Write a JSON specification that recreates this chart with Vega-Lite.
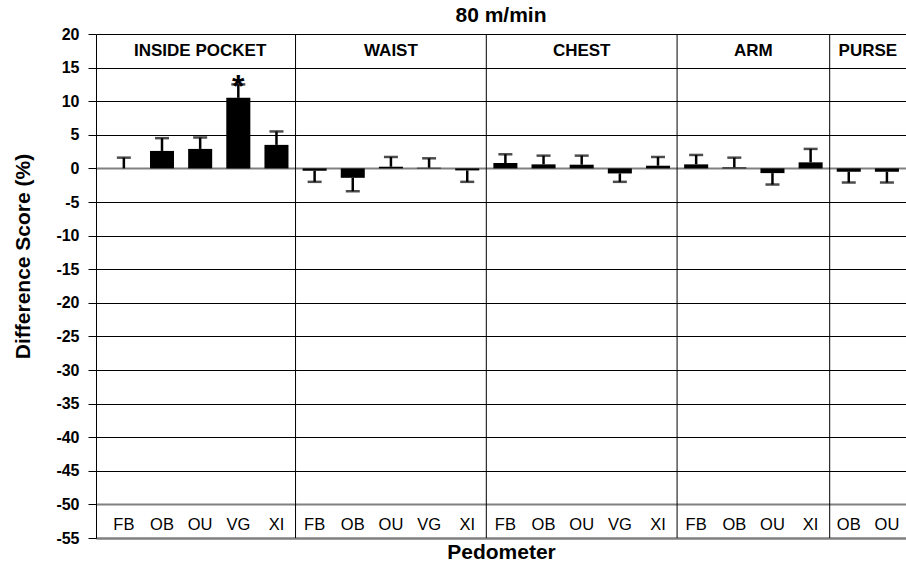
{
  "$schema": "https://vega.github.io/schema/vega-lite/v6.json",
  "width": 810,
  "height": 504,
  "autosize": {"type": "none"},
  "padding": {"left": 96, "top": 34, "right": 0, "bottom": 29},
  "background": "white",
  "title": {"text": "80 m/min", "fontSize": 21, "fontWeight": "bold", "font": "Liberation Sans", "color": "black", "offset": 0, "anchor": "middle"},
  "config": {
    "view": {"stroke": null},
    "font": "Liberation Sans",
    "axisX": {
      "labels": false, "ticks": false, "grid": false,
      "domainColor": "#808080", "domainWidth": 2,
      "titleFontSize": 21, "titleFontWeight": "bold", "titleColor": "black", "titlePadding": 3,
      "titleFont": "Liberation Sans"
    },
    "axisY": {
      "grid": true, "labelOverlap": false, "labelBound": false, "labelFlush": false, "tickCount": 30,
      "domainColor": "black", "tickColor": "black", "tickSize": 8,
      "labelFontSize": 16, "labelFontWeight": "bold", "labelColor": "black", "labelPadding": 9,
      "labelFont": "Liberation Sans",
      "titleFontSize": 21, "titleFontWeight": "bold", "titleColor": "black", "titlePadding": 22,
      "titleFont": "Liberation Sans"
    }
  },
  "datasets": {
    "scores": [
      {"id": "IP-FB", "location": "INSIDE POCKET", "pedometer": "FB", "mean": 0.0, "errEnd": 1.6, "sig": ""},
      {"id": "IP-OB", "location": "INSIDE POCKET", "pedometer": "OB", "mean": 2.6, "errEnd": 4.5, "sig": ""},
      {"id": "IP-OU", "location": "INSIDE POCKET", "pedometer": "OU", "mean": 2.9, "errEnd": 4.6, "sig": ""},
      {"id": "IP-VG", "location": "INSIDE POCKET", "pedometer": "VG", "mean": 10.5, "errEnd": 12.5, "sig": "*"},
      {"id": "IP-XI", "location": "INSIDE POCKET", "pedometer": "XI", "mean": 3.5, "errEnd": 5.5, "sig": ""},
      {"id": "W-FB", "location": "WAIST", "pedometer": "FB", "mean": -0.35, "errEnd": -2.0, "sig": ""},
      {"id": "W-OB", "location": "WAIST", "pedometer": "OB", "mean": -1.4, "errEnd": -3.4, "sig": ""},
      {"id": "W-OU", "location": "WAIST", "pedometer": "OU", "mean": 0.25, "errEnd": 1.7, "sig": ""},
      {"id": "W-VG", "location": "WAIST", "pedometer": "VG", "mean": 0.1, "errEnd": 1.5, "sig": ""},
      {"id": "W-XI", "location": "WAIST", "pedometer": "XI", "mean": -0.3, "errEnd": -2.0, "sig": ""},
      {"id": "C-FB", "location": "CHEST", "pedometer": "FB", "mean": 0.8, "errEnd": 2.1, "sig": ""},
      {"id": "C-OB", "location": "CHEST", "pedometer": "OB", "mean": 0.6, "errEnd": 1.9, "sig": ""},
      {"id": "C-OU", "location": "CHEST", "pedometer": "OU", "mean": 0.55, "errEnd": 1.9, "sig": ""},
      {"id": "C-VG", "location": "CHEST", "pedometer": "VG", "mean": -0.75, "errEnd": -2.0, "sig": ""},
      {"id": "C-XI", "location": "CHEST", "pedometer": "XI", "mean": 0.4, "errEnd": 1.7, "sig": ""},
      {"id": "A-FB", "location": "ARM", "pedometer": "FB", "mean": 0.6, "errEnd": 2.0, "sig": ""},
      {"id": "A-OB", "location": "ARM", "pedometer": "OB", "mean": 0.15, "errEnd": 1.6, "sig": ""},
      {"id": "A-OU", "location": "ARM", "pedometer": "OU", "mean": -0.7, "errEnd": -2.4, "sig": ""},
      {"id": "A-XI", "location": "ARM", "pedometer": "XI", "mean": 0.9, "errEnd": 2.9, "sig": ""},
      {"id": "P-OB", "location": "PURSE", "pedometer": "OB", "mean": -0.5, "errEnd": -2.1, "sig": ""},
      {"id": "P-OU", "location": "PURSE", "pedometer": "OU", "mean": -0.5, "errEnd": -2.1, "sig": ""}
    ],
    "groups": [
      {"location": "INSIDE POCKET", "first": "IP-FB", "center": "IP-OU", "even": false},
      {"location": "WAIST", "first": "W-FB", "center": "W-OU", "even": false},
      {"location": "CHEST", "first": "C-FB", "center": "C-OU", "even": false},
      {"location": "ARM", "first": "A-FB", "center": "A-OB", "even": true},
      {"location": "PURSE", "first": "P-OB", "center": "P-OB", "even": true}
    ]
  },
  "layer": [
    {
      "data": {"name": "scores"},
      "mark": {"type": "bar", "color": "black", "width": {"band": 0.63}},
      "encoding": {
        "x": {
          "field": "id", "type": "nominal", "sort": null, "title": "Pedometer",
          "scale": {
            "domain": ["IP-FB","IP-OB","IP-OU","IP-VG","IP-XI","W-FB","W-OB","W-OU","W-VG","W-XI","C-FB","C-OB","C-OU","C-VG","C-XI","A-FB","A-OB","A-OU","A-XI","P-OB","P-OU"],
            "paddingInner": 0, "paddingOuter": 0.115, "align": 1
          }
        },
        "y": {
          "field": "mean", "type": "quantitative", "title": "Difference Score (%)",
          "scale": {"domain": [-55, 20], "nice": false, "zero": false},
          "axis": {
            "values": [-55,-50,-45,-40,-35,-30,-25,-20,-15,-10,-5,0,5,10,15,20],
            "tickCount": 30,
            "titleY": 222,
            "labelExpr": "toString(datum.value)",
            "gridColor": {"condition": {"test": "datum.value === 0 || datum.value <= -50", "value": "#808080"}, "value": "black"},
            "gridWidth": {"condition": {"test": "datum.value === 0 || datum.value <= -50", "value": 2}, "value": 1}
          }
        },
        "y2": {"datum": 0}
      }
    },
    {
      "data": {"name": "scores"},
      "mark": {"type": "rule", "color": "black", "strokeWidth": 2.5},
      "encoding": {
        "x": {"field": "id", "type": "nominal", "sort": null, "title": "Pedometer"},
        "y": {"field": "mean", "type": "quantitative", "title": "Difference Score (%)"},
        "y2": {"field": "errEnd"}
      }
    },
    {
      "data": {"name": "scores"},
      "mark": {"type": "tick", "color": "black", "size": 14, "thickness": 2.5, "orient": "horizontal"},
      "encoding": {
        "x": {"field": "id", "type": "nominal", "sort": null, "title": "Pedometer"},
        "y": {"field": "errEnd", "type": "quantitative", "title": "Difference Score (%)"}
      }
    },
    {
      "data": {"name": "scores"},
      "transform": [{"filter": "datum.sig !== ''"}],
      "mark": {"type": "text", "color": "black", "fontSize": 32, "fontWeight": "bold", "baseline": "alphabetic", "dy": 13},
      "encoding": {
        "x": {"field": "id", "type": "nominal", "sort": null, "title": "Pedometer"},
        "y": {"field": "errEnd", "type": "quantitative", "title": "Difference Score (%)"},
        "text": {"field": "sig"}
      }
    },
    {
      "data": {"name": "scores"},
      "mark": {"type": "text", "color": "black", "fontSize": 16.5, "baseline": "middle"},
      "encoding": {
        "x": {"field": "id", "type": "nominal", "sort": null, "title": "Pedometer"},
        "y": {"datum": -53.1, "type": "quantitative", "title": "Difference Score (%)"},
        "text": {"field": "pedometer"}
      }
    },
    {
      "data": {"name": "groups"},
      "transform": [{"filter": "datum.location !== 'INSIDE POCKET'"}],
      "mark": {"type": "rule", "color": "black", "strokeWidth": 1},
      "encoding": {
        "x": {"field": "first", "type": "nominal", "sort": null, "bandPosition": 0, "title": "Pedometer"}
      }
    },
    {
      "data": {"name": "groups"},
      "transform": [{"filter": "!datum.even"}],
      "mark": {"type": "text", "color": "black", "fontSize": 17, "fontWeight": "bold", "baseline": "middle"},
      "encoding": {
        "x": {"field": "center", "type": "nominal", "sort": null, "bandPosition": 0.5, "title": "Pedometer"},
        "y": {"datum": 17.5, "type": "quantitative", "title": "Difference Score (%)"},
        "text": {"field": "location"}
      }
    },
    {
      "data": {"name": "groups"},
      "transform": [{"filter": "datum.even"}],
      "mark": {"type": "text", "color": "black", "fontSize": 17, "fontWeight": "bold", "baseline": "middle"},
      "encoding": {
        "x": {"field": "center", "type": "nominal", "sort": null, "bandPosition": 1, "title": "Pedometer"},
        "y": {"datum": 17.5, "type": "quantitative", "title": "Difference Score (%)"},
        "text": {"field": "location"}
      }
    }
  ]
}
